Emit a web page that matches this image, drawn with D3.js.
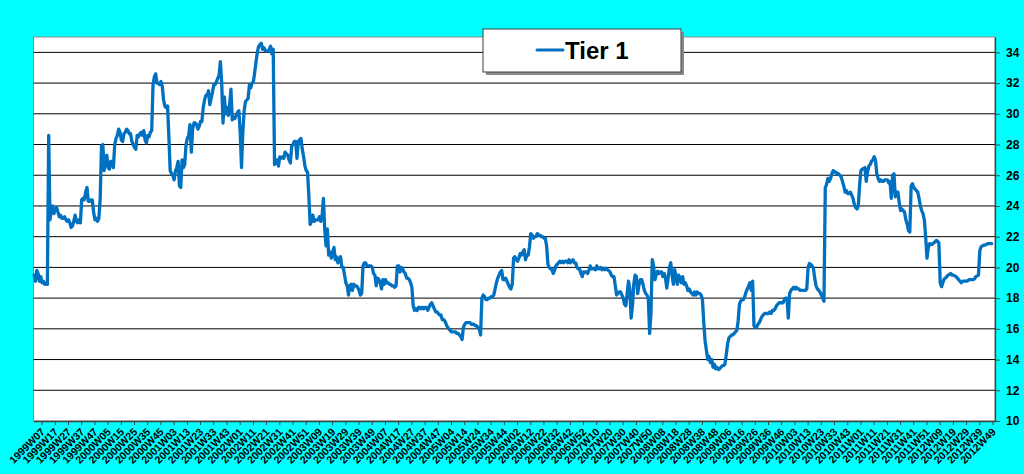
<!DOCTYPE html>
<html><head><meta charset="utf-8">
<script src="https://cdn.jsdelivr.net/npm/d3@7"></script>
<style>html,body{margin:0;padding:0;background:#00FFFF;} svg{display:block;}</style>
</head><body>
<svg id="chart" width="1024" height="474"></svg>
<script>
// ---------- DATA ----------
const seriesName = "Tier 1";
const years = [1999,2000,2001,2002,2003,2004,2005,2006,2007,2008,2009,2010,2011,2012];
const weeksShown = [52,52,52,52,52,53,52,52,52,52,53,52,52,50];

const tier1_1999 = [19.5,19.1,19.8,19.6,19.1,19.4,19.0,19.1,18.9,18.95,18.9,28.6,23.1,23.8,24.0,23.5,23.8,23.9,23.6,23.3,23.4,23.2,23.2,23.3,23.1,23.0,23.1,22.9,22.6,22.7,23.0,23.4,23.0,22.9,23.1,22.9,24.4,24.5,24.4,24.9,25.2,24.3,24.3,24.4,24.4,23.6,23.1,23.2,23.0,23.2,24.5,27.9];
const tier1_2000 = [28.0,26.3,27.0,27.3,26.5,26.4,26.9,26.9,26.5,28.0,28.4,28.6,29.0,28.8,28.3,28.2,28.7,28.8,29.0,28.9,28.7,28.7,28.2,28.0,27.8,27.7,28.6,28.5,28.7,28.8,28.6,28.9,28.3,28.1,28.6,28.5,28.8,28.9,31.9,32.4,32.6,32.0,32.0,31.9,32.1,31.8,30.9,30.5,30.4,30.5,28.5,26.3];
const tier1_2001 = [26.1,26.0,25.7,26.3,26.5,26.9,25.3,25.2,27.0,26.5,26.7,28.0,28.4,28.6,29.3,27.5,29.0,29.4,29.4,29.3,29.0,29.2,29.5,29.5,30.4,30.9,31.2,31.2,31.5,30.6,31.0,31.4,31.9,31.9,32.1,32.3,32.5,33.4,32.0,29.4,31.1,30.0,30.4,29.9,30.6,31.6,29.6,29.8,29.7,29.9,30.1,30.2];
const tier1_2002 = [28.8,26.5,28.8,30.2,30.8,30.9,31.0,31.9,31.7,32.0,32.1,32.7,33.4,34.0,34.4,34.5,34.6,34.2,34.3,34.1,34.1,34.1,34.2,34.4,33.9,34.2,26.7,26.8,27.0,26.6,27.2,27.1,27.2,27.1,27.5,27.4,27.3,27.0,26.8,27.9,28.0,28.2,28.2,27.1,28.2,28.3,28.4,27.7,27.2,26.6,26.3,26.2];
const tier1_2003 = [24.6,22.8,23.0,23.4,23.0,23.1,23.1,23.1,23.3,23.0,23.3,24.5,22.5,21.4,22.5,20.8,21.0,20.6,21.0,21.3,20.5,20.7,20.3,20.5,20.7,20.0,20.0,19.5,19.0,18.8,18.2,18.8,18.9,18.5,18.9,18.8,18.8,18.7,18.5,18.2,18.3,20.1,20.3,20.3,20.1,20.1,20.1,20.1,20.0,19.6,19.5,18.8];
const tier1_2004 = [19.3,19.2,19.0,18.6,19.2,18.9,19.2,19.0,19.0,18.9,18.9,18.8,18.8,18.7,18.8,20.1,20.1,19.7,20.0,19.9,19.7,19.6,19.3,19.3,19.2,19.0,18.7,17.5,17.2,17.3,17.2,17.4,17.4,17.3,17.4,17.3,17.4,17.4,17.2,17.4,17.6,17.7,17.5,17.3,17.1,17.1,17.0,16.9,16.9,16.6,16.6,16.5,16.3];
const tier1_2005 = [16.1,16.0,15.9,15.8,15.8,15.8,15.8,15.7,15.7,15.6,15.5,15.3,16.1,16.3,16.4,16.4,16.4,16.4,16.3,16.3,16.3,16.2,16.2,16.1,16.0,15.6,18.0,18.2,18.1,17.9,17.9,18.0,18.0,18.1,18.1,18.2,18.6,19.0,19.3,19.5,19.7,19.8,19.2,19.2,19.3,19.1,18.9,18.7,18.6,18.9,20.6,20.7];
const tier1_2006 = [20.5,20.4,20.6,20.9,20.8,21.0,21.15,20.5,20.8,20.8,21.3,22.2,22.1,21.9,22.0,22.0,22.2,22.1,22.1,22.0,22.0,21.9,21.9,21.4,20.2,20.0,19.9,19.85,19.6,19.8,20.1,20.2,20.3,20.4,20.3,20.4,20.3,20.4,20.4,20.3,20.5,20.3,20.4,20.5,20.3,20.3,20.0,19.9,19.9,19.6,19.4,19.7];
const tier1_2007 = [19.7,19.7,19.6,19.8,20.1,19.9,19.9,19.9,19.85,20.1,19.9,19.9,20.0,19.85,19.95,19.85,19.95,19.85,19.8,19.7,19.5,19.4,19.4,18.8,18.2,18.3,18.4,18.4,18.2,18.0,17.6,17.5,18.3,19.1,18.6,16.7,17.5,18.9,19.5,19.4,18.3,18.9,19.2,19.2,18.9,18.5,18.3,18.2,18.0,15.7,17.0,20.5];
const tier1_2008 = [20.1,19.2,19.5,19.75,19.6,19.7,19.7,19.4,19.6,19.3,18.65,19.3,20.0,20.3,19.5,18.9,19.85,19.4,18.9,19.5,19.3,19.0,19.4,18.9,19.0,18.8,18.5,18.6,18.4,18.3,18.2,18.4,18.2,18.4,18.3,18.3,18.2,17.9,16.4,15.2,14.6,14.0,14.2,13.8,14.0,13.5,13.7,13.4,13.5,13.35,13.4,13.5];
const tier1_2009 = [13.6,13.6,13.7,14.3,15.0,15.4,15.5,15.6,15.6,15.7,15.8,15.9,16.5,17.6,17.8,17.9,17.9,18.1,18.4,18.6,18.8,19.0,18.5,19.1,16.2,16.1,16.1,16.3,16.4,16.6,16.8,16.9,17.0,17.0,17.0,17.0,17.1,17.0,17.2,17.2,17.3,17.5,17.6,17.7,17.7,17.7,17.7,17.9,18.0,18.0,16.7,18.3,18.5];
const tier1_2010 = [18.6,18.7,18.6,18.7,18.6,18.6,18.5,18.5,18.5,18.5,18.5,18.6,20.0,20.25,20.2,20.1,19.95,19.3,18.8,18.6,18.5,18.4,18.2,18.0,17.8,25.2,25.4,25.8,25.6,25.8,26.1,26.3,26.2,26.2,26.1,26.1,26.0,25.9,25.6,25.3,24.9,25.0,24.8,24.8,24.9,24.7,24.5,24.1,23.9,23.8,24.0,25.4];
const tier1_2011 = [26.3,26.4,26.45,26.5,25.6,26.2,26.6,26.7,26.9,27.0,27.2,27.0,26.1,25.8,25.6,25.7,25.6,25.6,25.7,25.7,25.7,25.5,25.6,24.5,26.0,26.1,24.6,24.9,24.9,24.2,23.7,23.8,23.7,23.6,23.1,22.8,22.4,22.3,25.3,25.45,25.2,25.1,25.0,24.9,24.5,24.0,23.7,23.5,23.1,22.0,20.6,21.3];
const tier1_2012 = [21.55,21.5,21.5,21.6,21.65,21.75,21.7,21.6,19.0,18.75,19.0,19.25,19.3,19.4,19.5,19.55,19.6,19.5,19.5,19.45,19.4,19.3,19.2,19.1,19.0,19.1,19.1,19.1,19.1,19.15,19.2,19.2,19.2,19.2,19.25,19.4,19.45,19.5,21.1,21.35,21.4,21.45,21.45,21.5,21.55,21.55,21.55,21.55];

const yTicks = [10,12,14,16,18,20,22,24,26,28,30,32,34];
const xTickLabels = [
 "1999W07","1999W17","1999W27","1999W37","1999W47",
 "2000W05","2000W15","2000W25","2000W35","2000W45",
 "2001W03","2001W13","2001W23","2001W33","2001W43",
 "2002W01","2002W11","2002W21","2002W31","2002W41","2002W51",
 "2003W09","2003W19","2003W29","2003W39","2003W49",
 "2004W07","2004W17","2004W27","2004W37","2004W47",
 "2005W04","2005W14","2005W24","2005W34","2005W44",
 "2006W02","2006W12","2006W22","2006W32","2006W42","2006W52",
 "2007W10","2007W20","2007W30","2007W40","2007W50",
 "2008W08","2008W18","2008W28","2008W38","2008W48",
 "2009W06","2009W16","2009W26","2009W36","2009W46",
 "2010W03","2010W13","2010W23","2010W33","2010W43",
 "2011W01","2011W11","2011W21","2011W31","2011W41","2011W51",
 "2012W09","2012W19","2012W29","2012W39","2012W49"];

// ---------- BUILD ----------
const categories = [];
years.forEach((yr,k)=>{ for(let w=1; w<=weeksShown[k]; w++) categories.push(yr+"W"+String(w).padStart(2,"0")); });
const values = [].concat(tier1_1999,tier1_2000,tier1_2001,tier1_2002,tier1_2003,tier1_2004,tier1_2005,tier1_2006,tier1_2007,tier1_2008,tier1_2009,tier1_2010,tier1_2011,tier1_2012);
const data = values.map((v,i)=>({cat:categories[i], v}));

const FONT = "'Liberation Sans', Arial, sans-serif";
const L = 33.5, R = 995, T = 37, B = 421;
const svg = d3.select("#chart");

const x = d3.scaleBand().domain(categories).range([L, R]).padding(0);
const y = d3.scaleLinear().domain([10, 35]).range([B, T]);
const cx = c => x(c) + x.bandwidth()/2;

// plot area
svg.append("rect").attr("x", L).attr("y", T).attr("width", R-L).attr("height", B-T)
  .attr("fill", "#ffffff").attr("stroke", "#8c8c8c").attr("stroke-width", 1);

// gridlines
svg.append("g").selectAll("line").data(yTicks.filter(t => t > 10)).join("line")
  .attr("x1", L).attr("x2", R).attr("y1", d => y(d)).attr("y2", d => y(d))
  .attr("stroke", "#000").attr("stroke-width", 1);

// line
svg.append("path").datum(data)
  .attr("fill", "none").attr("stroke", "#0070C0").attr("stroke-width", 3.3)
  .attr("stroke-linejoin", "round").attr("stroke-linecap", "round")
  .attr("d", d3.line().x(d => cx(d.cat)).y(d => y(d.v)));

// bottom axis
const xAxis = svg.append("g").attr("transform", `translate(0,${B})`)
  .call(d3.axisBottom(x).tickValues(xTickLabels).tickSize(4).tickSizeOuter(0));
xAxis.select(".domain").attr("stroke", "#404040").attr("stroke-width", 1.3);
xAxis.selectAll(".tick line").attr("stroke", "#404040");
xAxis.selectAll(".tick text")
  .attr("x", 0).attr("y", 0).attr("dy", 0)
  .attr("text-anchor", "end")
  .attr("transform", "translate(3.5,11.5) rotate(-45)")
  .attr("font-family", FONT).attr("font-size", 10.5).attr("font-weight", "bold").attr("fill", "#000");

// right axis
const yAxis = svg.append("g").attr("transform", `translate(${R},0)`)
  .call(d3.axisRight(y).tickValues(yTicks).tickSize(5).tickSizeOuter(0));
yAxis.select(".domain").attr("stroke", "#404040").attr("stroke-width", 1.3);
yAxis.selectAll(".tick line").attr("stroke", "#404040");
yAxis.selectAll(".tick text").attr("x", 11)
  .attr("font-family", FONT).attr("font-size", 12).attr("font-weight", "bold").attr("fill", "#000");

// legend
const lg = svg.append("g");
lg.append("rect").attr("x", 486).attr("y", 32).attr("width", 198).attr("height", 43).attr("fill", "#8a8a8a");
lg.append("rect").attr("x", 483).attr("y", 29).attr("width", 198).attr("height", 43)
  .attr("fill", "#fff").attr("stroke", "#404040").attr("stroke-width", 1);
lg.append("line").attr("x1", 537).attr("x2", 563).attr("y1", 50).attr("y2", 50)
  .attr("stroke", "#0070C0").attr("stroke-width", 3).attr("stroke-linecap", "round");
lg.append("text").attr("x", 565).attr("y", 58.5).text(seriesName)
  .attr("font-family", FONT).attr("font-size", 24).attr("font-weight", "bold").attr("fill", "#000");
</script>
</body></html>
